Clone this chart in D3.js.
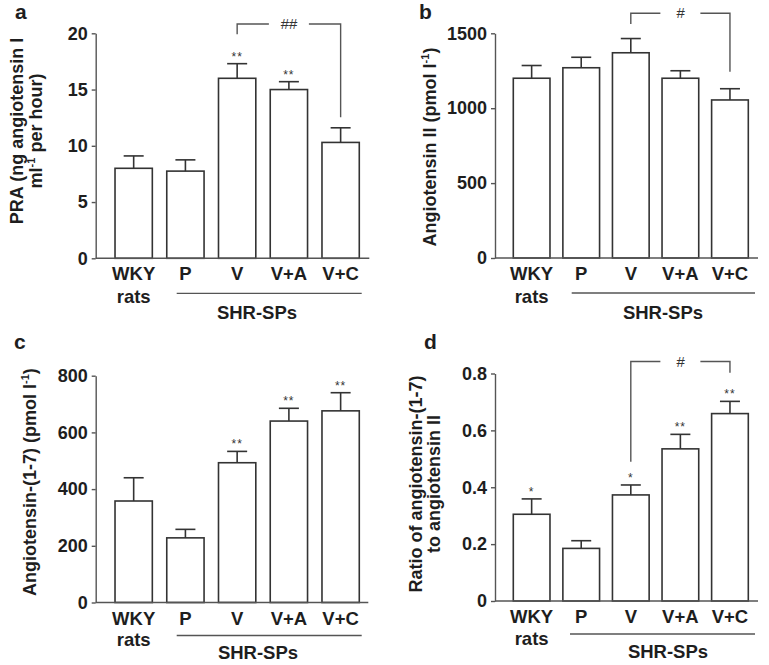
<!DOCTYPE html>
<html><head><meta charset="utf-8">
<script src="https://cdn.jsdelivr.net/npm/d3@7"></script>
<style>
body{margin:0;background:#fff}
svg{display:block}
text{font-family:"Liberation Sans", Arial, Helvetica, sans-serif}
</style>
</head><body>
<svg id="chart" width="769" height="665"></svg>
<script>
// ---------- data ----------
const categories = ["WKY", "P", "V", "V+A", "V+C"];

const praMeans = [8.0, 7.75, 16.0, 15.0, 10.3];
const praSEM   = [1.1, 1.0, 1.3, 0.7, 1.3];
const praStars = ["", "", "**", "**", ""];
const praTicks = [0, 5, 10, 15, 20];

const angIIMeans = [1200, 1270, 1370, 1200, 1055];
const angIISEM   = [85, 70, 95, 50, 75];
const angIIStars = ["", "", "", "", ""];
const angIITicks = [0, 500, 1000, 1500];

const ang17Means = [358, 228, 493, 640, 676];
const ang17SEM   = [82, 30, 40, 45, 64];
const ang17Stars = ["", "", "**", "**", "**"];
const ang17Ticks = [0, 200, 400, 600, 800];

const ratioMeans = [0.305, 0.185, 0.373, 0.535, 0.659];
const ratioSEM   = [0.054, 0.027, 0.035, 0.051, 0.043];
const ratioStars = ["*", "", "*", "**", "**"];
const ratioTicks = [0, 0.2, 0.4, 0.6, 0.8];

const groupLabel = "SHR-SPs";
const wkySub = "rats";

// ---------- layout ----------
const svg = d3.select("#chart");
const TXT = "#1e1e1e", AX = "#555", BAR = "#333";

const topRow = { cat: 22, rats: 45, line: 35, grp: 61 };
const botRow = { cat: 22, rats: 43.5, line: 33, grp: 56.5 };

const panels = [
  { letter: "a", lx: 15, ly: 19, means: praMeans, sem: praSEM, stars: praStars, ticks: praTicks,
    fmt: d3.format("d"), axisX: 95.7, xEnd: 369.3, y0: 258.3, yTop: 33.3, band: [107.8, 366.5], pad: 0.279,
    title: [ {x: 23, parts: [{t: "PRA (ng angiotensin I"}]},
             {x: 42, parts: [{t: "ml"}, {t: "-1", sup: true}, {t: " per hour)"}]} ], titleY: 131,
    groupLine: [176.7, 361.7], groupX: 257, off: topRow,
    bracket: { from: "V", to: "V+C", label: "##", top: 24, leftEnd: 34.3, rightEnd: 117.3 } },
  { letter: "b", lx: 419, ly: 19, means: angIIMeans, sem: angIISEM, stars: angIIStars, ticks: angIITicks,
    fmt: d3.format("d"), axisX: 495, xEnd: 758, y0: 258, yTop: 33.3, band: [506.85, 754.75], pad: 0.26,
    title: [ {x: 436, parts: [{t: "Angiotensin II (pmol l"}, {t: "-1", sup: true}, {t: ")"}]} ], titleY: 147,
    groupLine: [571.7, 755], groupX: 663, off: topRow,
    bracket: { from: "V", to: "V+C", label: "#", top: 13.3, leftEnd: 24, rightEnd: 71.7 } },
  { letter: "c", lx: 14, ly: 349, means: ang17Means, sem: ang17SEM, stars: ang17Stars, ticks: ang17Ticks,
    fmt: d3.format("d"), axisX: 95.7, xEnd: 368.3, y0: 602.5, yTop: 375.7, band: [107.8, 366.5], pad: 0.279,
    title: [ {x: 36, parts: [{t: "Angiotensin-(1-7) (pmol l"}, {t: "-1", sup: true}, {t: ")"}]} ], titleY: 482,
    groupLine: [176.7, 361.7], groupX: 258, off: botRow,
    bracket: null },
  { letter: "d", lx: 424, ly: 349, means: ratioMeans, sem: ratioSEM, stars: ratioStars, ticks: ratioTicks,
    fmt: v => v === 0 ? "0" : d3.format(".1f")(v), axisX: 495, xEnd: 758, y0: 601, yTop: 373.5,
    band: [506.85, 754.75], pad: 0.26,
    title: [ {x: 422, parts: [{t: "Ratio of angiotensin-(1-7)"}]},
             {x: 440, parts: [{t: "to angiotensin II"}]} ], titleY: 484,
    groupLine: [570, 755], groupX: 668, off: botRow,
    bracket: { from: "V", to: "V+C", label: "#", top: 361.5, leftEnd: 461.7, rightEnd: 372.7 } }
];

function drawPanel(p) {
  const g = svg.append("g");
  const x = d3.scaleBand().domain(categories).range(p.band)
    .paddingInner(p.pad).paddingOuter(p.pad / 2);
  const y = d3.scaleLinear().domain([0, p.ticks[p.ticks.length - 1]]).range([p.y0, p.yTop]);
  const cx = c => x(c) + x.bandwidth() / 2;

  const rows = categories.map((c, i) => ({ c, m: p.means[i], e: p.sem[i], s: p.stars[i] }));

  // bars
  g.selectAll("rect.bar").data(rows).join("rect")
    .attr("class", "bar")
    .attr("x", d => x(d.c)).attr("y", d => y(d.m))
    .attr("width", x.bandwidth()).attr("height", d => p.y0 - y(d.m))
    .attr("fill", "#fff").attr("stroke", BAR).attr("stroke-width", 1.6);

  // error bars (upper only)
  g.selectAll("line.whisk").data(rows).join("line")
    .attr("class", "whisk")
    .attr("x1", d => cx(d.c)).attr("x2", d => cx(d.c))
    .attr("y1", d => y(d.m)).attr("y2", d => y(d.m + d.e))
    .attr("stroke", BAR).attr("stroke-width", 1.6);
  g.selectAll("line.cap").data(rows).join("line")
    .attr("class", "cap")
    .attr("x1", d => cx(d.c) - 10).attr("x2", d => cx(d.c) + 10)
    .attr("y1", d => y(d.m + d.e)).attr("y2", d => y(d.m + d.e))
    .attr("stroke", BAR).attr("stroke-width", 1.6);

  // significance stars
  g.selectAll("text.star").data(rows.filter(d => d.s)).join("text")
    .attr("class", "star")
    .attr("x", d => cx(d.c)).attr("y", d => y(d.m + d.e) - 3)
    .attr("text-anchor", "middle").attr("font-size", 12).attr("letter-spacing", 1)
    .attr("fill", "#333").text(d => d.s);

  // y axis
  const axis = d3.axisLeft(y).tickValues(p.ticks).tickFormat(p.fmt)
    .tickSize(4).tickSizeOuter(0).tickPadding(4);
  const ag = g.append("g").attr("transform", `translate(${p.axisX},0)`).call(axis);
  ag.select(".domain").attr("stroke", AX).attr("stroke-width", 1.4);
  ag.selectAll(".tick line").attr("stroke", AX).attr("stroke-width", 1.4);
  ag.selectAll(".tick text").attr("font-size", 18).attr("font-weight", "bold")
    .attr("font-family", "Liberation Sans, Arial, sans-serif").attr("fill", TXT);

  // x axis baseline
  g.append("line").attr("x1", p.axisX).attr("x2", p.xEnd)
    .attr("y1", p.y0).attr("y2", p.y0).attr("stroke", AX).attr("stroke-width", 1.4);

  // category labels
  g.selectAll("text.cat").data(categories).join("text")
    .attr("class", "cat")
    .attr("x", c => cx(c)).attr("y", p.y0 + p.off.cat)
    .attr("text-anchor", "middle").attr("font-size", 18.5).attr("font-weight", "bold")
    .attr("fill", TXT).text(c => c);
  g.append("text").attr("x", cx(categories[0])).attr("y", p.y0 + p.off.rats)
    .attr("text-anchor", "middle").attr("font-size", 18.5).attr("font-weight", "bold")
    .attr("fill", TXT).text(wkySub);

  // group line and label
  g.append("line").attr("x1", p.groupLine[0]).attr("x2", p.groupLine[1])
    .attr("y1", p.y0 + p.off.line).attr("y2", p.y0 + p.off.line)
    .attr("stroke", AX).attr("stroke-width", 1.3);
  g.append("text").attr("x", p.groupX).attr("y", p.y0 + p.off.grp)
    .attr("text-anchor", "middle").attr("font-size", 18.5).attr("font-weight", "bold")
    .attr("fill", TXT).text(groupLabel);

  // comparison bracket
  if (p.bracket) {
    const b = p.bracket;
    const xl = cx(b.from), xr = cx(b.to), xm = (xl + xr) / 2;
    const gap = 20;
    g.append("path")
      .attr("d", `M${xl},${b.leftEnd}V${b.top}H${xm - gap}M${xm + gap},${b.top}H${xr}V${b.rightEnd}`)
      .attr("fill", "none").attr("stroke", AX).attr("stroke-width", 1.4);
    g.append("text").attr("x", xm).attr("y", b.top + 5)
      .attr("text-anchor", "middle").attr("font-size", 15).attr("font-style", "italic")
      .attr("fill", "#333").text(b.label);
  }

  // axis title
  p.title.forEach(line => {
    const t = g.append("text")
      .attr("transform", `translate(${line.x},${p.titleY}) rotate(-90)`)
      .attr("text-anchor", "middle").attr("font-size", 18).attr("font-weight", "bold")
      .attr("fill", TXT);
    line.parts.forEach(part => {
      if (part.sup) {
        t.append("tspan").attr("font-size", 11).attr("dy", -7).text(part.t);
      } else {
        const ts = t.append("tspan").text(part.t);
        if (part !== line.parts[0]) ts.attr("dy", 7);
      }
    });
  });

  // panel letter
  g.append("text").attr("x", p.lx).attr("y", p.ly)
    .attr("font-size", 21).attr("font-weight", "bold").attr("fill", TXT).text(p.letter);
}

panels.forEach(drawPanel);
</script>
</body></html>
